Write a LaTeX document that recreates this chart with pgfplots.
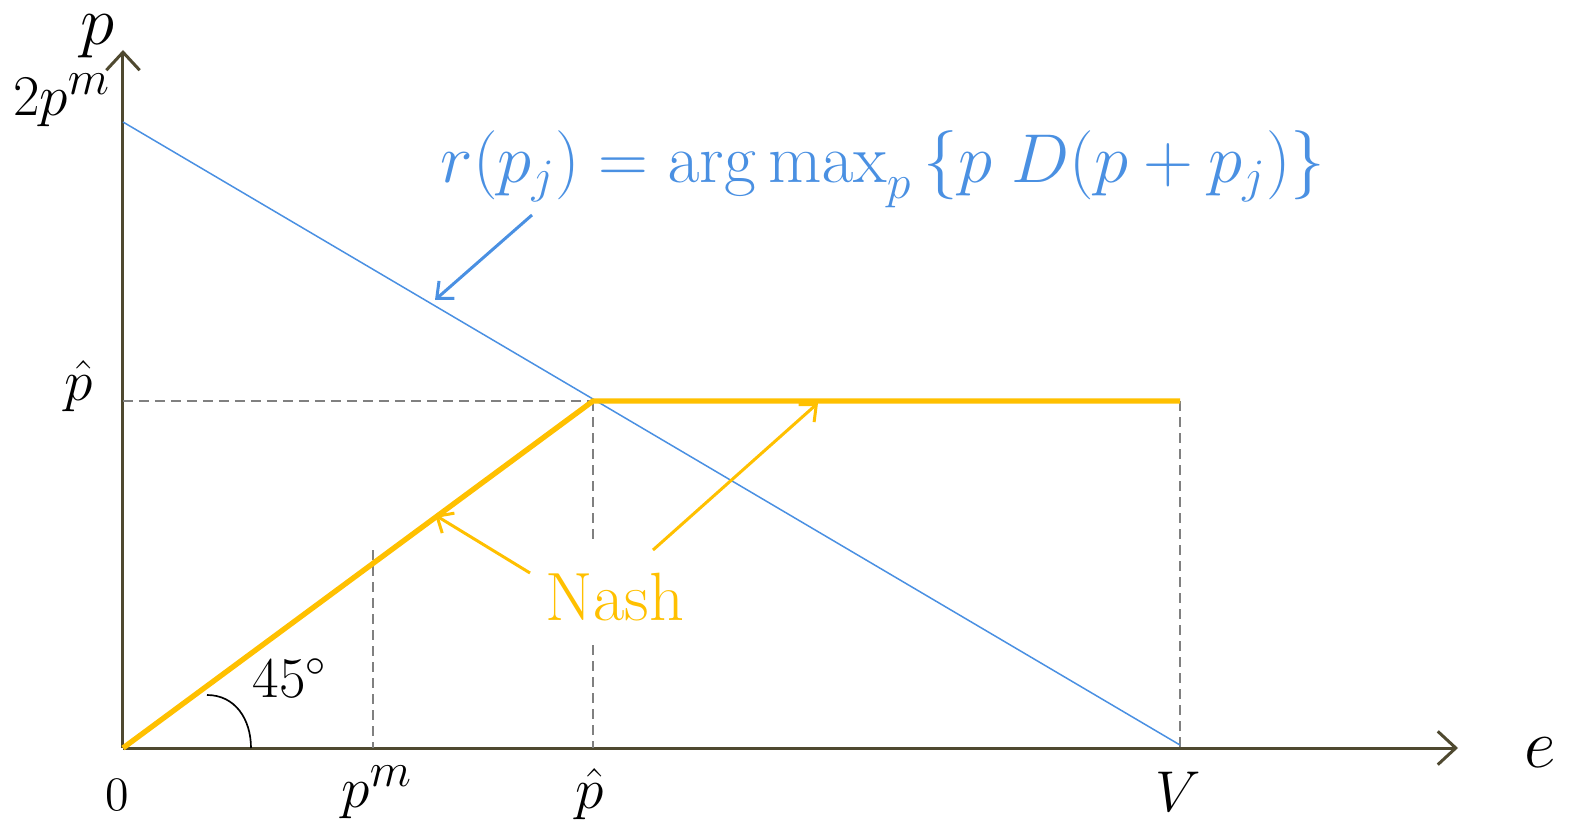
\documentclass[border=0pt]{standalone}
\usepackage{pgfplots}
\pgfplotsset{compat=1.18}
\usetikzlibrary{arrows.meta}
\definecolor{rblue}{RGB}{74,144,226}
\definecolor{nashy}{RGB}{255,192,0}
\definecolor{axcol}{RGB}{79,73,48}
\definecolor{dashg}{RGB}{128,128,128}
\begin{document}
\begin{tikzpicture}
\begin{axis}[
  scale only axis,
  width=400.5pt, height=209.4pt,
  xmin=0, xmax=1335, ymin=0, ymax=698,
  axis lines=left,
  axis line style={color=axcol, line width=0.9pt, -{Straight Barb[length=5.4pt,width=10pt,line width=0.9pt]}},
  xtick=\empty, ytick=\empty,
  clip=false,
  every node/.append style={inner sep=0pt},
]
% guide lines
\addplot[dashg, line width=0.6pt, dash pattern=on 3pt off 1.8pt] coordinates {(0,347) (470,347)};
\addplot[dashg, line width=0.6pt, dash pattern=on 3pt off 1.8pt] coordinates {(470,347) (470,205)};
\addplot[dashg, line width=0.6pt, dash pattern=on 3pt off 1.8pt] coordinates {(470,103) (470,0)};
\addplot[dashg, line width=0.6pt, dash pattern=on 3pt off 1.8pt] coordinates {(1057,347) (1057,0)};
\addplot[dashg, line width=0.6pt, dash pattern=on 3pt off 1.8pt] coordinates {(250,198) (250,0)};
% best response r(p_j)
\addplot[rblue, line width=0.45pt] coordinates {(0,626) (1057,3)};
% Nash equilibria
\addplot[nashy, line width=1.6pt, line join=round] coordinates {(0,0) (470,347) (1057,347)};
% angle mark
\draw[black, line width=0.5pt] (axis cs:84,53) .. controls (axis cs:112,53) and (axis cs:128,29) .. (axis cs:128,0);
\node at (axis cs:167,70) {\fontsize{18.5}{22}\selectfont $45^\circ$};
% annotations
\node[text=rblue] at (axis cs:760,579) {\fontsize{21}{25}\selectfont $r\bigl(p_j\bigr)=\mathrm{arg\,max}_p\,\{p\;D(p+p_j)\}$};
\draw[rblue, line width=0.9pt, -{Straight Barb[length=4pt,width=7pt,line width=0.9pt]}] (axis cs:409,533) -- (axis cs:312,448);
\node[text=nashy] at (axis cs:492,151) {\fontsize{20.5}{24}\selectfont Nash};
\draw[nashy, line width=0.9pt, -{Straight Barb[length=4pt,width=7pt,line width=0.9pt]}] (axis cs:407,175) -- (axis cs:312,233);
\draw[nashy, line width=0.9pt, -{Straight Barb[length=4pt,width=7pt,line width=0.9pt]}] (axis cs:530,198) -- (axis cs:695,345);
% axis labels
\node at (axis cs:-26,712) {\fontsize{20}{24}\selectfont $p$};
\node at (axis cs:1417,-5) {\fontsize{21}{25}\selectfont $e$};
\node at (axis cs:-61,648) {\fontsize{19}{22}\selectfont $2p^m$};
\node at (axis cs:-44,362) {\fontsize{19}{22}\selectfont $\hat{p}$};
\node at (axis cs:-6,-47) {\fontsize{15}{18}\selectfont $0$};
\node at (axis cs:254,-44) {\fontsize{19}{22}\selectfont $p^m$};
\node at (axis cs:467,-46) {\fontsize{19}{22}\selectfont $\hat{p}$};
\node at (axis cs:1055,-44) {\fontsize{19}{22}\selectfont $V$};
\coordinate (bl) at (axis cs:-123,-85);
\coordinate (tr) at (axis cs:1450,748);
\end{axis}
\pgfresetboundingbox
\path (bl) rectangle (tr);
\end{tikzpicture}
\end{document}
